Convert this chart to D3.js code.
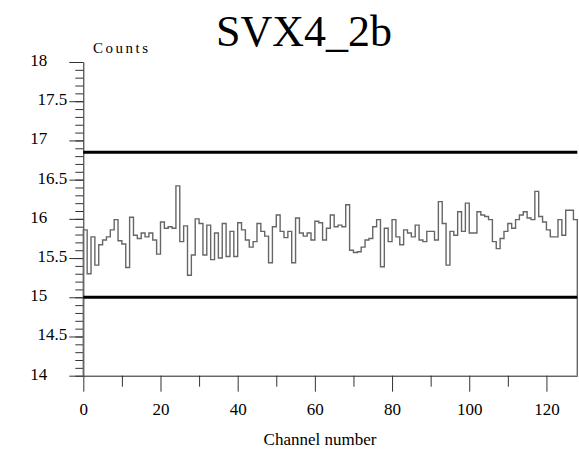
<!DOCTYPE html>
<html lang="en">
<head>
    <title>SVX4_2b</title>
    <script src="https://d3js.org/d3.v7.min.js" charset="utf-8"></script>
    <style type="text/css">
        body
        {
            margin: 0;
            background-color: white;
        }
        svg
        {
            display: block;
            background-color: white;
        }
        svg text
        {
            font-family: "Liberation Serif", "Times New Roman", Times, "DejaVu Serif", serif !important;
        }
    </style>
</head>
<body>
    <div id="chart_div"></div>
    <script>
    "use strict";
    // counts per channel
    var counts = [
        15.86, 15.30, 15.77, 15.41, 15.67, 15.73, 15.77, 15.86, 15.99, 15.72,
        15.68, 15.38, 16.02, 15.79, 15.75, 15.82, 15.77, 15.82, 15.73, 15.55,
        15.96, 15.88, 15.90, 15.88, 16.42, 15.71, 15.91, 15.28, 15.54, 16.00,
        15.94, 15.54, 15.92, 15.48, 15.82, 15.50, 15.94, 15.52, 15.84, 15.52,
        15.95, 15.86, 15.73, 15.64, 15.71, 15.94, 15.84, 15.78, 15.44, 15.90,
        16.05, 15.84, 15.76, 15.84, 15.44, 16.01, 15.82, 15.78, 15.82, 15.73,
        15.97, 15.95, 15.73, 15.88, 16.05, 15.90, 15.92, 15.90, 16.18, 15.60,
        15.57, 15.58, 15.64, 15.73, 15.75, 15.90, 15.99, 15.39, 15.88, 15.71,
        15.99, 15.77, 15.67, 15.86, 15.82, 15.77, 15.92, 15.73, 15.71, 15.84,
        15.84, 15.73, 16.22, 15.94, 15.41, 15.84, 15.79, 16.09, 15.84, 16.20,
        15.82, 15.82, 16.09, 16.05, 16.03, 15.99, 15.71, 15.62, 15.75, 15.84,
        15.94, 15.88, 15.99, 16.05, 16.09, 16.01, 15.99, 16.35, 16.03, 15.96,
        15.86, 15.77, 15.77, 15.99, 15.79, 16.11, 16.11, 15.99
    ];
    var limit_lines = [15.0, 16.85];
    var x_major = [0, 20, 40, 60, 80, 100, 120];
    var x_minor = [10, 30, 50, 70, 90, 110];
    var y_major = [14, 14.5, 15, 15.5, 16, 16.5, 17, 17.5, 18];

    var svg_width = 579;
    var svg_height = 450;
    var pad_left = 83.3, pad_right = 577.3, pad_top = 62, pad_bottom = 375.7;

    var chart_svg = d3.select("#chart_div")
        .append("svg")
        .attr("width", svg_width)
        .attr("height", svg_height);

    var xscale = d3.scaleLinear().domain([0, 128]).range([pad_left, pad_right]);
    var yscale = d3.scaleLinear().domain([14, 18]).range([pad_bottom, pad_top]);

    // y axis: minor ticks every 0.1, major every 0.5
    var y_minor = d3.range(140, 181).map(function(d) { return d / 10; });
    chart_svg.append("g")
        .attr("transform", "translate(" + pad_left + ",0)")
        .call(d3.axisLeft(yscale).tickValues(y_minor).tickSize(8).tickFormat(""))
        .call(function(g) { g.select(".domain").remove(); });
    var yaxis = chart_svg.append("g")
        .attr("transform", "translate(" + pad_left + ",0)")
        .call(d3.axisLeft(yscale).tickValues(y_major).tickSize(14).tickSizeOuter(0)
            .tickFormat(function(d) { return d3.format("")(d); }));
    yaxis.selectAll("text")
        .attr("font-size", 17)
        .attr("fill", "black")
        .attr("dy", "0.2em")
        .attr("x", function(d) { return Number.isInteger(d) ? -36 : -16; });

    // x axis
    chart_svg.append("g")
        .attr("transform", "translate(0," + pad_bottom + ")")
        .call(d3.axisBottom(xscale).tickValues(x_minor).tickSize(11).tickFormat(""))
        .call(function(g) { g.select(".domain").remove(); });
    var xaxis = chart_svg.append("g")
        .attr("transform", "translate(0," + pad_bottom + ")")
        .call(d3.axisBottom(xscale).tickValues(x_major).tickSize(16).tickSizeOuter(0));
    xaxis.selectAll("text")
        .attr("font-size", 17)
        .attr("fill", "black")
        .attr("y", 27);
    chart_svg.selectAll(".domain").attr("stroke", "#222");
    chart_svg.selectAll(".tick line").attr("stroke", "#333");

    // histogram outline
    var hist_points = [[0, 14]];
    counts.forEach(function(c, i)
    {
        hist_points.push([i, c]);
        hist_points.push([i + 1, c]);
    });
    hist_points.push([128, 14]);
    var line = d3.line()
        .x(function(d) { return xscale(d[0]); })
        .y(function(d) { return yscale(d[1]); });
    chart_svg.append("path")
        .datum(hist_points)
        .attr("d", line)
        .attr("fill", "none")
        .attr("stroke", "#666")
        .attr("stroke-width", 1.4);

    // limit lines
    chart_svg.selectAll(".limit")
        .data(limit_lines)
        .enter()
        .append("line")
        .attr("class", "limit")
        .attr("x1", xscale(0))
        .attr("x2", xscale(128))
        .attr("y1", function(d) { return yscale(d); })
        .attr("y2", function(d) { return yscale(d); })
        .attr("stroke", "black")
        .attr("stroke-width", 3);

    // texts
    chart_svg.append("text")
        .text("SVX4_2b")
        .attr("x", 304)
        .attr("y", 46)
        .attr("font-size", 44)
        .style("text-anchor", "middle");
    chart_svg.append("text")
        .text("Counts")
        .attr("x", 93)
        .attr("y", 53)
        .attr("font-size", 15)
        .attr("textLength", 55);
    chart_svg.append("text")
        .text("Channel number")
        .attr("x", 320)
        .attr("y", 445)
        .attr("font-size", 17)
        .style("text-anchor", "middle");
    </script>
</body>
</html>
